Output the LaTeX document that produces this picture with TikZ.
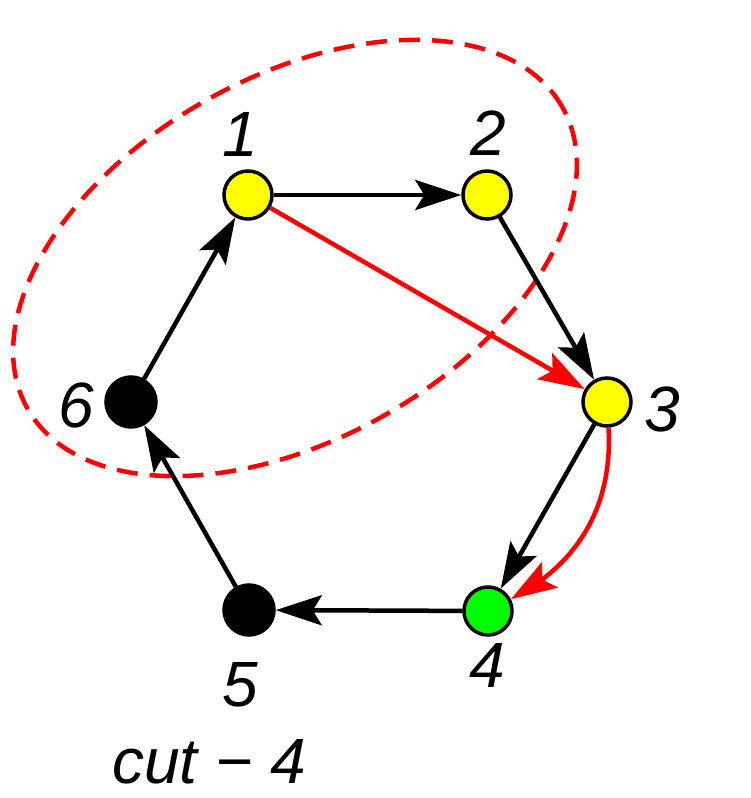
\documentclass[tikz,border=0pt]{standalone}
\usepackage{fontspec}
\setmainfont{Liberation Sans}
\usetikzlibrary{arrows.meta,bending}
\definecolor{myyellow}{RGB}{255,255,0}
\definecolor{mygreen}{RGB}{0,255,0}
\definecolor{myred}{RGB}{255,0,0}
\begin{document}
\begin{tikzpicture}[x=1pt,y=1pt,
  vert/.style={circle,draw=black,line width=3.5pt,minimum size=48pt,inner sep=0pt},
  lab/.style={font=\fontsize{64}{64}\selectfont\itshape,inner sep=0pt},
  edge/.style={line width=4.5pt,-{Stealth[length=46pt,width=30pt,inset=9pt]}},
  rededge/.style={edge,draw=myred}
]
\useasboundingbox (0,0) rectangle (750,798);
\draw[myred,line width=4.5pt,dash pattern=on 21pt off 12pt,rotate around={29.4:(295,540)}] (295,540) ellipse [x radius=307, y radius=181];
\node[vert,fill=myyellow] (n1) at (248,603) {};
\node[vert,fill=myyellow] (n2) at (487,603) {};
\node[vert,fill=myyellow] (n3) at (607,396) {};
\node[vert,fill=mygreen] (n4) at (488,187) {};
\node[vert,fill=black,minimum size=50pt] (n5) at (249,188) {};
\node[vert,fill=black,minimum size=50pt] (n6) at (131,396) {};
\node[lab] (l1) at (240,664) {1};
\node[lab] (l2) at (488,665) {2};
\node[lab] (l3) at (662,389) {3};
\node[lab] (l4) at (487,133) {4};
\node[lab] (l5) at (240,113) {5};
\node[lab] (l6) at (76,393) {6};
\node[lab] (cut) at (209,36) {cut − 4};
\draw[edge] (n1) -- (n2);
\draw[edge] (n2) -- (n3);
\draw[edge] (n3) -- (n4);
\draw[edge] (n4) -- (n5);
\draw[edge] (n5) -- (n6);
\draw[edge] (n6) -- (n1);
\draw[rededge] (n1) -- (n3);
\draw[rededge] (n3) to[bend left=33] (n4);
\end{tikzpicture}
\end{document}
